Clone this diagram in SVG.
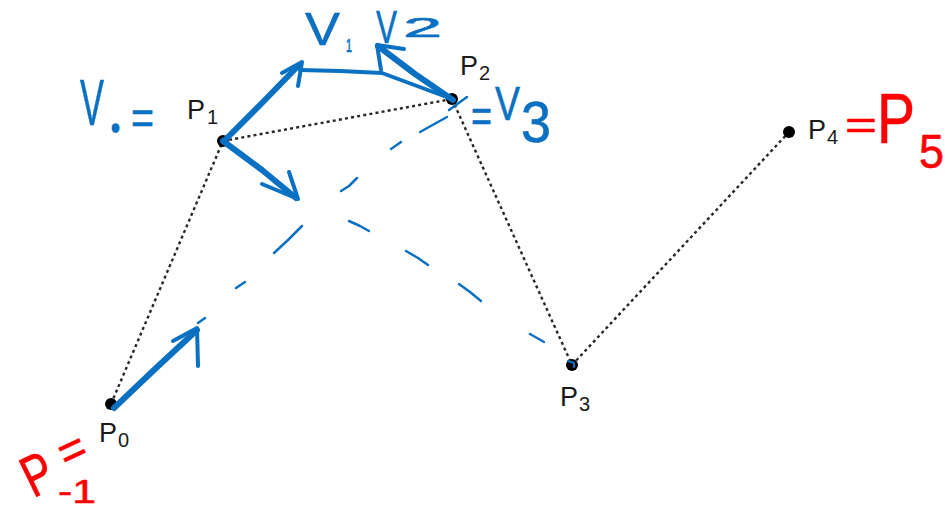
<svg xmlns="http://www.w3.org/2000/svg" width="945" height="510" viewBox="0 0 945 510">
<style>
.edge{fill:none;stroke:#262626;stroke-width:2.4;stroke-dasharray:3 3.2}
.dot{fill:#000}
.lbl{font-family:"Liberation Sans",Arial,sans-serif;font-size:27px;fill:#1a1a1a}
.sub{font-size:20px}
.ink{fill:none;stroke:#0a70c2;stroke-linecap:round;stroke-linejoin:round}
.thick{stroke-width:6}
.mid{stroke-width:4}
.thin{stroke-width:2.5}
.hwb{font-family:"Liberation Sans",Arial,sans-serif;fill:#0a70c2;stroke:#0a70c2;stroke-width:0.6;stroke-linejoin:round}
.hwr{font-family:"Liberation Sans",Arial,sans-serif;fill:#ff0000;stroke:#ff0000;stroke-width:0.6;stroke-linejoin:round}
</style>
<rect width="945" height="510" fill="#fff"/>
<g id="connectors">
<line class="edge" x1="111" y1="404" x2="223" y2="141"/>
<line class="edge" x1="223" y1="141" x2="452" y2="99"/>
<line class="edge" x1="452" y1="99" x2="572" y2="365"/>
<line class="edge" x1="572" y1="365" x2="789" y2="132"/>
</g>
<g id="P0"><circle class="dot" cx="111" cy="404" r="6"/><text class="lbl" x="99" y="442">P<tspan class="sub" dx="1" dy="5">0</tspan></text></g>
<g id="P1"><circle class="dot" cx="223" cy="141" r="6"/><text class="lbl" x="187" y="119">P<tspan class="sub" dx="2" dy="5">1</tspan></text></g>
<g id="P2"><circle class="dot" cx="452" cy="99" r="6"/><text class="lbl" x="460" y="75">P<tspan class="sub" dx="1" dy="5">2</tspan></text></g>
<g id="P3"><circle class="dot" cx="572" cy="365" r="6"/><text class="lbl" x="560" y="406">P<tspan class="sub" dx="1" dy="5">3</tspan></text></g>
<g id="P4"><circle class="dot" cx="789" cy="132" r="6"/><text class="lbl" x="808" y="139">P<tspan class="sub" dx="1" dy="5">4</tspan></text></g>
<g id="annotations-blue">
<path class="ink thick" d="M223,141 L262,170 L296,198"/>
<path class="ink mid" d="M262,184 L298,199 L289,172"/>
<path class="ink thick" d="M225,140 L262,103 L298,66"/>
<path class="ink mid" d="M282,73 L302,62 L298,86"/>
<path class="ink mid" d="M300,70 L340,71 L382,73 L452,99"/>
<path class="ink thick" d="M453,100 L415,74 L378,46"/>
<path class="ink mid" d="M404,49 L377,45 L381,70"/>
<path class="ink thick" d="M114,408 L155,369 L197,330"/>
<path class="ink mid" d="M173,341 L197,328 L198,366"/>
<path class="ink thin" d="M198,323 L205,318"/>
<path class="ink thin" d="M420,132 L447,117"/>
<path class="ink thin" d="M449,110 L467,97"/>
<path class="ink thin" d="M391,149 L401,142"/>
<path class="ink thin" d="M341,191 L349,186 L357,178"/>
<path class="ink thin" d="M349,221 L360,226 L369,231"/>
<path class="ink thin" d="M274,253 L288,240 L302,226"/>
<path class="ink thin" d="M236,288 L245,282"/>
<path class="ink thin" d="M406,251 L418,258 L428,265"/>
<path class="ink thin" d="M459,284 L470,292 L481,301"/>
<path class="ink thin" d="M530,334 L544,342"/>
<path class="ink" stroke-width="2" d="M568,361 L574,363 L574,367"/>
<text class="hwb"><tspan x="80" y="125" font-size="65" textLength="24" lengthAdjust="spacingAndGlyphs">V</tspan><tspan x="113" y="131" font-size="9" stroke-width="3.5">0</tspan><tspan x="131" y="134" font-size="48" textLength="23" lengthAdjust="spacingAndGlyphs">=</tspan></text>
<text class="hwb"><tspan x="305" y="45" font-size="47" textLength="35" lengthAdjust="spacingAndGlyphs">V</tspan><tspan x="346" y="52" font-size="18" textLength="6" lengthAdjust="spacingAndGlyphs">1</tspan></text>
<text class="hwb"><tspan x="376" y="43" font-size="46" textLength="21" lengthAdjust="spacingAndGlyphs">V</tspan><tspan x="403" y="37" font-size="27" textLength="39" lengthAdjust="spacingAndGlyphs">2</tspan></text>
<text class="hwb"><tspan x="471" y="132" font-size="46" textLength="21" lengthAdjust="spacingAndGlyphs">=</tspan><tspan x="495" y="120" font-size="48" textLength="25" lengthAdjust="spacingAndGlyphs">V</tspan><tspan x="521" y="142" font-size="58" textLength="30" lengthAdjust="spacingAndGlyphs">3</tspan></text>
</g>
<g id="annotations-red">
<text class="hwr"><tspan x="845" y="139" font-size="40" textLength="32" lengthAdjust="spacingAndGlyphs">=</tspan><tspan x="877" y="143" font-size="71" textLength="38" lengthAdjust="spacingAndGlyphs">P</tspan><tspan x="919" y="168" font-size="48" textLength="25" lengthAdjust="spacingAndGlyphs">5</tspan></text>
<text class="hwr" x="22" y="494" font-size="58" textLength="29" lengthAdjust="spacingAndGlyphs" transform="rotate(-26 37 472)">P</text>
<text class="hwr" x="58" y="466" font-size="48" textLength="27" lengthAdjust="spacingAndGlyphs" transform="rotate(-25 72 449)">=</text>
<text class="hwr" x="58" y="503" font-size="34" textLength="38" lengthAdjust="spacingAndGlyphs">-1</text>
</g>
</svg>
